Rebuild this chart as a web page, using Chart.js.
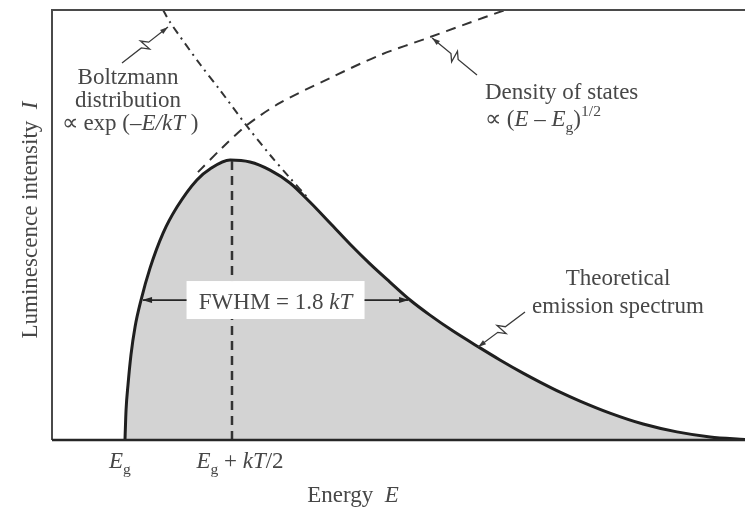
<!DOCTYPE html>
<html>
<head>
<meta charset="utf-8">
<script src="https://cdn.jsdelivr.net/npm/chart.js@4.4.1/dist/chart.umd.min.js"></script>
<style>
  html, body { margin: 0; padding: 0; background: #fff; }
  #wrap { width: 745px; height: 509px; position: relative; }
</style>
</head>
<body>
<div id="wrap"><canvas id="spectrum"></canvas></div>
<script>
// x = (E - Eg) / kT , y = intensity relative to the peak
const spectrumX = [0, 0.005, 0.014, 0.028, 0.047, 0.075, 0.117, 0.178, 0.243, 0.336, 0.397, 0.491,
  0.584, 0.678, 0.771, 0.864, 0.958, 1.051, 1.145, 1.238, 1.332, 1.425, 1.533, 1.659, 1.752,
  1.860, 1.939, 2.033, 2.126, 2.266, 2.421, 2.579, 2.734, 2.897];
const spectrumY = [0, 0.107, 0.196, 0.304, 0.404, 0.5, 0.614, 0.739, 0.832, 0.929, 0.968, 1.0,
  0.993, 0.964, 0.918, 0.85, 0.775, 0.7, 0.629, 0.564, 0.5, 0.446, 0.389, 0.329, 0.286,
  0.239, 0.207, 0.171, 0.139, 0.096, 0.057, 0.029, 0.011, 0.002];

// density of states (dashed)
const dosX = [0.341, 0.453, 0.570, 0.724, 0.958, 1.192, 1.425, 1.579, 1.776];
const dosY = [0.957, 1.043, 1.125, 1.204, 1.293, 1.375, 1.439, 1.482, 1.536];

// Boltzmann distribution (dash-dot)
const boltzX = [0.178, 0.210, 0.350, 0.444, 0.570, 0.678, 0.771, 0.855];
const boltzY = [1.536, 1.493, 1.343, 1.25, 1.121, 1.018, 0.936, 0.864];

const peakX = 0.5;          // Eg + kT/2
const peakY = 1.0;
const halfMax = 0.5;
const fwhmLeft = 0.075;
const fwhmRight = 1.332;

const xMin = -0.341, xMax = 2.897, yMax = 1.536;

const tickValues = [0, peakX];
const tickLabels = [
  [["E", "i"], ["g", "sub"]],
  [["E", "i"], ["g", "sub"], [" + ", "n"], ["kT", "i"], ["/2", "n"]]
];

const FONT = '"Liberation Serif", "Times New Roman", serif';
const TEXT = "#474747";
const INK = "#262626";

function pts(xs, ys) {
  return xs.map((x, i) => ({ x: x, y: ys[i] }));
}

function drawRuns(ctx, runs, x, y, align, size) {
  const fontFor = (s) => {
    const sz = (s === "sub" || s === "sup") ? size * 0.68 : size;
    return (s === "i" ? "italic " : "") + sz + "px " + FONT;
  };
  let w = 0;
  runs.forEach(r => { ctx.font = fontFor(r[1]); w += ctx.measureText(r[0]).width; });
  let cx = align === "center" ? x - w / 2 : x;
  ctx.textAlign = "left";
  ctx.textBaseline = "alphabetic";
  runs.forEach(r => {
    ctx.font = fontFor(r[1]);
    let dy = 0;
    if (r[1] === "sub") dy = size * 0.25;
    if (r[1] === "sup") dy = -size * 0.42;
    ctx.fillText(r[0], cx, y + dy);
    cx += ctx.measureText(r[0]).width;
  });
}

function arrowHead(ctx, x0, y0, x1, y1, len, wid) {
  const a = Math.atan2(y1 - y0, x1 - x0);
  ctx.beginPath();
  ctx.moveTo(x1, y1);
  ctx.lineTo(x1 - len * Math.cos(a) + wid * Math.sin(a), y1 - len * Math.sin(a) - wid * Math.cos(a));
  ctx.lineTo(x1 - len * Math.cos(a) - wid * Math.sin(a), y1 - len * Math.sin(a) + wid * Math.cos(a));
  ctx.closePath();
  ctx.fill();
}

// leader line with a zig-zag break and arrow at the end
function leader(ctx, sx, sy, ex, ey) {
  const dx = ex - sx, dy = ey - sy;
  const L = Math.hypot(dx, dy);
  const nx = -dy / L, ny = dx / L;
  const p = (t, o) => [sx + dx * t + nx * o, sy + dy * t + ny * o];
  const path = [p(0, 0), p(0.42, 0), p(0.52, 6), p(0.48, -6), p(0.58, 0), p(1, 0)];
  ctx.beginPath();
  ctx.moveTo(path[0][0], path[0][1]);
  for (let i = 1; i < path.length; i++) ctx.lineTo(path[i][0], path[i][1]);
  ctx.stroke();
  arrowHead(ctx, sx, sy, ex, ey, 8, 2.6);
}

const decorations = {
  id: "decorations",
  afterDatasetsDraw(chart) {
    const ctx = chart.ctx;
    const a = chart.chartArea;
    const xs = chart.scales.x, ys = chart.scales.y;
    ctx.save();

    // frame
    ctx.strokeStyle = "#4a4a4a";
    ctx.lineWidth = 2;
    ctx.beginPath();
    ctx.moveTo(a.left, a.bottom);
    ctx.lineTo(a.left, a.top);
    ctx.lineTo(a.right, a.top);
    ctx.stroke();
    ctx.strokeStyle = INK;
    ctx.lineWidth = 2.5;
    ctx.beginPath();
    ctx.moveTo(a.left, a.bottom);
    ctx.lineTo(a.right, a.bottom);
    ctx.stroke();

    // FWHM arrows and box
    const hy = ys.getPixelForValue(halfMax);
    const lx = xs.getPixelForValue(fwhmLeft), rx = xs.getPixelForValue(fwhmRight);
    const mid = (lx + rx) / 2;
    const bw = 178, bh = 38;
    ctx.fillStyle = "#fff";
    ctx.fillRect(mid - bw / 2, hy - 19, bw, bh);
    ctx.strokeStyle = INK;
    ctx.fillStyle = INK;
    ctx.lineWidth = 1.8;
    ctx.beginPath();
    ctx.moveTo(mid - bw / 2, hy); ctx.lineTo(lx + 2, hy);
    ctx.moveTo(mid + bw / 2, hy); ctx.lineTo(rx - 2, hy);
    ctx.stroke();
    arrowHead(ctx, mid - bw / 2, hy, lx + 1, hy, 10, 3);
    arrowHead(ctx, mid + bw / 2, hy, rx - 1, hy, 10, 3);
    ctx.fillStyle = TEXT;
    drawRuns(ctx, [["FWHM = 1.8 ", "n"], ["kT", "i"]], mid, hy + 9, "center", 23);

    // leaders
    ctx.strokeStyle = "#3a3a3a";
    ctx.fillStyle = "#3a3a3a";
    ctx.lineWidth = 1.3;
    leader(ctx, 122, 63, xs.getPixelForValue(0.201), ys.getPixelForValue(1.475));
    leader(ctx, 477, 75, xs.getPixelForValue(1.435), ys.getPixelForValue(1.436));
    leader(ctx, 525, 312, xs.getPixelForValue(1.650), ys.getPixelForValue(0.332));

    // annotation texts
    ctx.fillStyle = TEXT;
    drawRuns(ctx, [["Boltzmann", "n"]], 128, 84, "center", 23);
    drawRuns(ctx, [["distribution", "n"]], 128, 107, "center", 23);
    drawRuns(ctx, [["\u221D exp (\u2013", "n"], ["E/kT", "i"], [" )", "n"]], 130, 130, "center", 23);

    drawRuns(ctx, [["Density of states", "n"]], 485, 99, "left", 23);
    drawRuns(ctx, [["\u221D (", "n"], ["E", "i"], [" \u2013 ", "n"], ["E", "i"], ["g", "sub"], [")", "n"], ["1/2", "sup"]], 485, 126, "left", 23);

    drawRuns(ctx, [["Theoretical", "n"]], 618, 285, "center", 23);
    drawRuns(ctx, [["emission spectrum", "n"]], 618, 313, "center", 23);

    // tick labels
    tickValues.forEach((v, i) => {
      const px = xs.getPixelForValue(v);
      drawRuns(ctx, tickLabels[i], px + (i === 0 ? -5 : 8), a.bottom + 28, "center", 23);
    });

    // axis titles
    drawRuns(ctx, [["Energy", "n"], ["  ", "n"], ["E", "i"]], 353, 502, "center", 23);
    ctx.translate(37, 220);
    ctx.rotate(-Math.PI / 2);
    drawRuns(ctx, [["Luminescence intensity  ", "n"], ["I", "i"]], 0, 0, "center", 23);

    ctx.restore();
  }
};

new Chart(document.getElementById("spectrum"), {
  type: "scatter",
  data: {
    datasets: [
      {
        label: "Boltzmann distribution",
        data: pts(boltzX, boltzY),
        showLine: true,
        borderColor: "#333",
        borderWidth: 2,
        borderDash: [8, 5, 2, 5],
        pointRadius: 0,
        tension: 0.3,
        order: 1,
      },
      {
        label: "Density of states",
        data: pts(dosX, dosY),
        showLine: true,
        borderColor: "#333",
        borderWidth: 2,
        borderDash: [10, 7],
        pointRadius: 0,
        tension: 0.3,
        order: 2,
      },
      {
        label: "Eg + kT/2",
        data: [{ x: peakX, y: 0 }, { x: peakX, y: peakY }],
        showLine: true,
        borderColor: "#333",
        borderWidth: 2.5,
        borderDash: [9, 6],
        pointRadius: 0,
        order: 3,
      },
      {
        label: "Theoretical emission spectrum",
        data: pts(spectrumX, spectrumY),
        showLine: true,
        fill: "origin",
        backgroundColor: "#d3d3d3",
        borderColor: "#1f1f1f",
        borderWidth: 3,
        pointRadius: 0,
        cubicInterpolationMode: "monotone",
        order: 4,
      },
    ],
  },
  options: {
    responsive: true,
    maintainAspectRatio: false,
    animation: false,
    events: [],
    layout: { padding: { left: 52, top: 10, right: 0, bottom: 69 } },
    scales: {
      x: { type: "linear", min: xMin, max: xMax, display: false },
      y: { type: "linear", min: 0, max: yMax, display: false },
    },
    plugins: {
      legend: { display: false },
      tooltip: { enabled: false },
    },
  },
  plugins: [decorations],
});
</script>
</body>
</html>
